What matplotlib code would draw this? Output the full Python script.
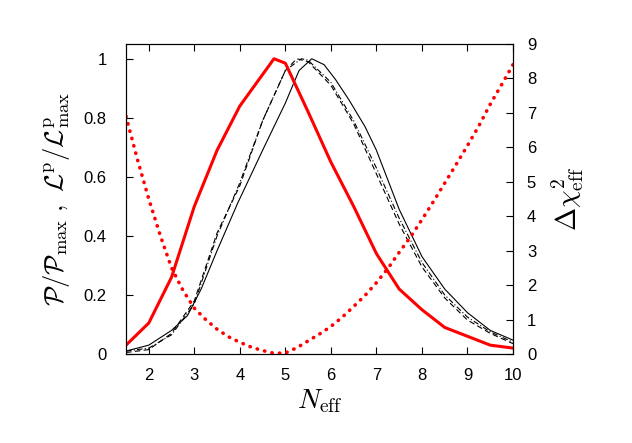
import matplotlib
matplotlib.use("Agg")
import matplotlib.pyplot as plt

plt.rcParams["font.family"] = ["Liberation Sans", "DejaVu Sans"]
plt.rcParams["mathtext.fontset"] = "cm"

# red solid: posterior P/Pmax
n_red = [1.5, 2.0, 2.5, 3.0, 3.5, 4.0, 4.75, 5.0, 5.5, 6.0, 6.5, 7.0, 7.5, 8.0, 8.5, 9.0, 9.5, 10.0]
p_red = [0.03, 0.105, 0.26, 0.50, 0.69, 0.84, 1.0, 0.985, 0.82, 0.65, 0.50, 0.34, 0.22, 0.15, 0.09, 0.06, 0.03, 0.02]

# black solid
n_solid = [1.5, 2.0, 2.5, 2.85, 3.15, 3.5, 3.95, 4.5, 5.0, 5.3, 5.58, 5.85, 6.1, 6.4, 6.75,
           7.0, 7.5, 8.0, 8.5, 9.0, 9.5, 10.0]
l_solid = [0.01, 0.03, 0.08, 0.13, 0.22, 0.35, 0.51, 0.69, 0.85, 0.96, 1.0, 0.98, 0.93, 0.86, 0.77,
           0.69, 0.49, 0.33, 0.22, 0.14, 0.08, 0.047]

# black dashed
n_dash = [1.5, 2.0, 2.5, 3.0, 3.5, 4.0, 4.5, 5.0, 5.25, 5.5, 6.0, 6.5, 7.0, 7.5, 8.0, 8.5, 9.0, 9.5, 10.0]
l_dash = [0.005, 0.015, 0.07, 0.18, 0.41, 0.57, 0.79, 0.96, 1.0, 0.99, 0.91, 0.78, 0.61, 0.44, 0.295,
          0.19, 0.115, 0.07, 0.035]

# black dash-dot
n_dd = [1.5, 2.0, 2.5, 3.0, 3.5, 4.0, 4.5, 5.0, 5.35, 5.5, 6.0, 6.5, 7.0, 7.5, 8.0, 8.5, 9.0, 9.5, 10.0]
l_dd = [0.01, 0.02, 0.065, 0.17, 0.40, 0.58, 0.79, 0.96, 1.0, 0.995, 0.92, 0.79, 0.63, 0.46, 0.31,
        0.20, 0.125, 0.075, 0.04]

# red dotted: delta chi^2_eff (right axis)
n_chi = [1.5, 1.75, 2.0, 2.25, 2.5, 2.75, 3.0, 3.25, 3.5, 3.75, 4.0, 4.25, 4.5, 4.75, 5.0, 5.25,
         5.5, 5.75, 6.0, 6.25, 6.5, 6.75, 7.0, 7.25, 7.5, 7.75, 8.0, 8.25, 8.5, 8.75, 9.0, 9.25,
         9.5, 9.75, 10.0]
chi2 = [6.9, 5.65, 4.5, 3.45, 2.5, 1.85, 1.33, 1.0, 0.72, 0.5, 0.34, 0.2, 0.1, 0.02, 0.03, 0.18,
        0.38, 0.58, 0.8, 1.07, 1.38, 1.7, 2.07, 2.48, 2.95, 3.4, 3.9, 4.42, 4.96, 5.5, 6.05, 6.62,
        7.25, 7.82, 8.4]

left_ticks = [0, 0.2, 0.4, 0.6, 0.8, 1.0]
left_labels = ["0", "0.2", "0.4", "0.6", "0.8", "1"]
x_ticks = [2, 3, 4, 5, 6, 7, 8, 9, 10]
right_ticks = list(range(10))

fig = plt.figure(figsize=(6.32, 4.43), dpi=100)
ax = fig.add_axes([0.1994, 0.2009, 0.6123, 0.6998])
ax2 = ax.twinx()

ax.plot(n_solid, l_solid, color="black", lw=0.8)
ax.plot(n_dash, l_dash, color="black", lw=0.8, linestyle=(0, (5, 3)))
ax.plot(n_dd, l_dd, color="black", lw=0.8, linestyle=(0, (5, 2, 1, 2)))
ax.plot(n_red, p_red, color="red", lw=2.2)
ax2.plot(n_chi, chi2, color="red", lw=2.6, linestyle=(0, (0.1, 2.0)),
         dash_capstyle="round")

ax.set_xlim(1.5, 10)
ax.set_ylim(0, 1.05)
ax2.set_ylim(0, 9)
ax.set_xticks(x_ticks)
ax.set_yticks(left_ticks)
ax.set_yticklabels(left_labels)
ax2.set_yticks(right_ticks)

ax.tick_params(axis="x", direction="in", top=True, length=5, labelsize=12, pad=10)
ax.tick_params(axis="y", direction="in", right=False, length=5, labelsize=12, pad=14)
ax2.tick_params(axis="y", direction="in", length=5, labelsize=12, pad=10)

ax.set_xlabel(r"$N_{\rm eff}$", fontsize=20, labelpad=3)
ax.set_ylabel(r"$\mathcal{P}/\mathcal{P}_{\rm max}\ ,\ \mathcal{L}^{\rm p}/\mathcal{L}^{\rm p}_{\rm max}$",
              fontsize=19, labelpad=8)
ax2.set_ylabel(r"$\Delta\chi^2_{\rm eff}$", fontsize=20, labelpad=10)

fig.savefig("out.png", dpi=100)
